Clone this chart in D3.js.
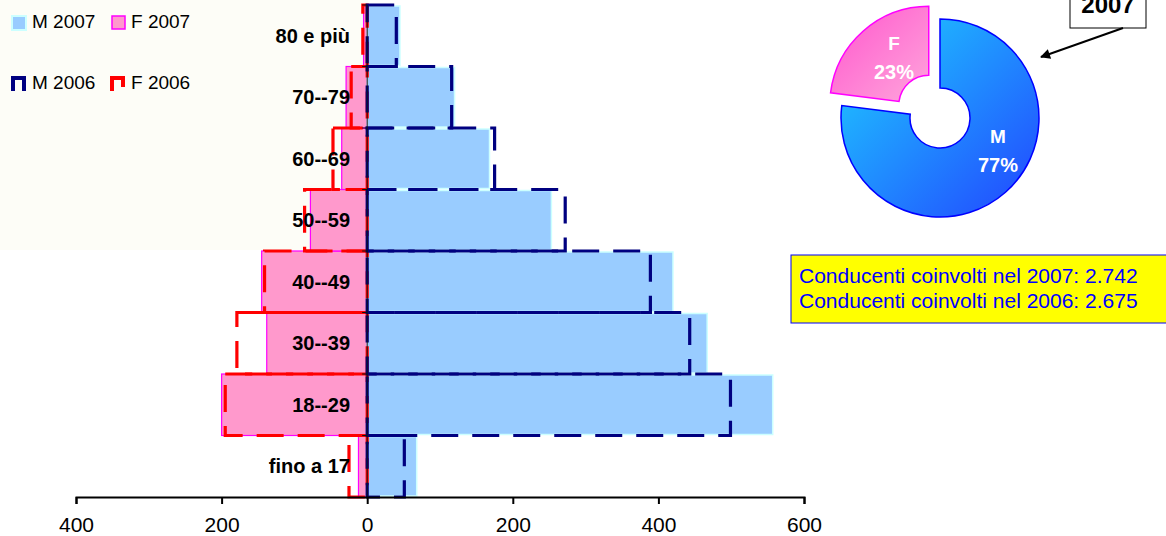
<!DOCTYPE html>
<html>
<head>
<meta charset="utf-8">
<script src="https://cdn.jsdelivr.net/npm/d3@7"></script>
<style>
  html, body { margin: 0; padding: 0; background: #ffffff; }
  svg { display: block; font-family: "Liberation Sans", Arial, sans-serif; }
</style>
</head>
<body>
<svg id="chart" width="1166" height="536"></svg>
<script>
// ---- data ----
const categories = ["fino a 17", "18--29", "30--39", "40--49", "50--59", "60--69", "70--79", "80 e più"];
const m2007 = [68, 557, 467, 420, 253, 168, 120, 45];
const f2007 = [12, 200, 138, 145, 78, 35, 29, 5];
const m2006 = [51, 499, 443, 389, 272, 175, 116, 40];
const f2006 = [25, 195, 179, 141, 86, 47, 22, 6];
const xTicks = [-400, -200, 0, 200, 400, 600];
const pieLabels = ["M", "F"];
const pieValues = [77, 23];
const legendLabels = ["M 2007", "F 2007", "M 2006", "F 2006"];
const infoLines = ["Conducenti coinvolti nel 2007: 2.742", "Conducenti coinvolti nel 2006: 2.675"];
const calloutLabel = "2007";

const svg = d3.select("#chart");
const defs = svg.append("defs");

// faint cream background panel (top-left)
svg.append("rect").attr("x", 0).attr("y", 0).attr("width", 368).attr("height", 250).attr("fill", "#fdfdf7");

// ---- scales ----
const x = d3.scaleLinear().domain([-400, 600]).range([76, 804]);
const y = d3.scaleBand().domain(categories.slice().reverse()).range([5, 497]).padding(0);

const rows = categories.map((c, i) => ({ c, m7: m2007[i], f7: f2007[i], m6: m2006[i], f6: f2006[i] }));

// 2007 filled bars
svg.append("g").selectAll("rect").data(rows).join("rect")
  .attr("x", d => x(-d.f7)).attr("y", d => y(d.c))
  .attr("width", d => x(0) - x(-d.f7)).attr("height", y.bandwidth())
  .attr("fill", "#ff99cc").attr("stroke", "#ff00ff").attr("stroke-width", 1.2);

svg.append("g").selectAll("rect").data(rows).join("rect")
  .attr("x", x(0)).attr("y", d => y(d.c) + 1)
  .attr("width", d => x(d.m7) - x(0)).attr("height", y.bandwidth() - 2)
  .attr("fill", "#99ccff").attr("stroke", "#ccffff").attr("stroke-width", 1.5);

// 2006 dashed outlines
svg.append("g").selectAll("rect").data(rows).join("rect")
  .attr("x", d => x(-d.f6)).attr("y", d => y(d.c))
  .attr("width", d => x(0) - x(-d.f6)).attr("height", y.bandwidth())
  .attr("fill", "none").attr("stroke", "#ff0000").attr("stroke-width", 3.2)
  .attr("stroke-dasharray", "27,14");

svg.append("g").selectAll("rect").data(rows).join("rect")
  .attr("x", x(0)).attr("y", d => y(d.c))
  .attr("width", d => x(d.m6) - x(0)).attr("height", y.bandwidth())
  .attr("fill", "none").attr("stroke", "#000080").attr("stroke-width", 3.2)
  .attr("stroke-dasharray", "27,14");

// zero (category) axis
svg.append("line").attr("x1", x(0)).attr("x2", x(0)).attr("y1", 5).attr("y2", 497)
  .attr("stroke", "#111").attr("stroke-width", 1);
svg.append("g").selectAll("line").data(categories).join("line")
  .attr("x1", x(0) - 5).attr("x2", x(0))
  .attr("y1", d => y(d)).attr("y2", d => y(d))
  .attr("stroke", "#111").attr("stroke-width", 1);

// category labels
svg.append("g").selectAll("text").data(categories).join("text")
  .attr("x", 350).attr("y", d => y(d) + y.bandwidth() / 2 + 7)
  .attr("text-anchor", "end").attr("font-size", 20).attr("font-weight", "bold")
  .attr("fill", "#000").text(d => d);

// bottom value axis
const xAxis = d3.axisBottom(x).tickValues(xTicks).tickSize(7).tickFormat(d => Math.abs(d));
const gx = svg.append("g").attr("transform", "translate(0,497)").call(xAxis);
gx.select(".domain").attr("stroke", "#000").attr("stroke-width", 2);
gx.selectAll(".tick line").attr("stroke", "#000").attr("stroke-width", 2);
gx.selectAll(".tick text").attr("font-size", 21).attr("font-family", "Liberation Sans, Arial, sans-serif")
  .attr("fill", "#000").attr("y", 0).attr("dy", 0)
  .attr("transform", "translate(0,35)");

// ---- legend ----
const lg = svg.append("g").attr("font-size", 19).attr("fill", "#000");
lg.append("rect").attr("x", 12).attr("y", 16).attr("width", 14).attr("height", 14)
  .attr("fill", "#99ccff").attr("stroke", "#ccffff").attr("stroke-width", 2);
lg.append("text").attr("x", 32).attr("y", 28).text(legendLabels[0]);
lg.append("rect").attr("x", 112).attr("y", 16).attr("width", 13).attr("height", 13)
  .attr("fill", "#ff99cc").attr("stroke", "#ff00ff").attr("stroke-width", 1.5);
lg.append("text").attr("x", 131).attr("y", 28).text(legendLabels[1]);
lg.append("path").attr("d", "M13,91 V78 H24 V91").attr("fill", "none")
  .attr("stroke", "#000080").attr("stroke-width", 4);
lg.append("text").attr("x", 32).attr("y", 89).text(legendLabels[2]);
lg.append("path").attr("d", "M112,91 V78 H123 V87").attr("fill", "none")
  .attr("stroke", "#ff0000").attr("stroke-width", 4);
lg.append("text").attr("x", 131).attr("y", 89).text(legendLabels[3]);

// ---- donut ----
const gM = defs.append("linearGradient").attr("id", "gradM")
  .attr("x1", "0").attr("y1", "0").attr("x2", "1").attr("y2", "1");
gM.append("stop").attr("offset", "0%").attr("stop-color", "#1ed2ff");
gM.append("stop").attr("offset", "100%").attr("stop-color", "#2244ff");
const gF = defs.append("linearGradient").attr("id", "gradF")
  .attr("x1", "0").attr("y1", "0").attr("x2", "1").attr("y2", "1");
gF.append("stop").attr("offset", "0%").attr("stop-color", "#ff55cc");
gF.append("stop").attr("offset", "100%").attr("stop-color", "#ffa6dc");

const cx = 940, cy = 118, rOut = 99, rIn = 30;
const pie = d3.pie().sort(null).value(d => d.v);
const pieData = pie(pieLabels.map((l, i) => ({ l, v: pieValues[i] })));
const arc = d3.arc().innerRadius(rIn).outerRadius(rOut);
const pg = svg.append("g").attr("transform", `translate(${cx},${cy})`);
pg.selectAll("path").data(pieData).join("path")
  .attr("transform", d => {
    if (d.data.l !== "F") return null;
    const a = (d.startAngle + d.endAngle) / 2, e = 17;
    return `translate(${Math.sin(a) * e},${-Math.cos(a) * e})`;
  })
  .attr("d", arc)
  .attr("fill", d => d.data.l === "M" ? "url(#gradM)" : "url(#gradF)")
  .attr("stroke", d => d.data.l === "M" ? "#0000ff" : "#ff00ff")
  .attr("stroke-width", 1.5);

// pie labels
const labelPos = { M: [998 - cx, 136 - cy], F: [894 - cx, 43 - cy] };
pieData.forEach(d => {
  const p = labelPos[d.data.l];
  pg.append("text").attr("x", p[0]).attr("y", p[1] + 7).attr("text-anchor", "middle")
    .attr("font-size", 19).attr("font-weight", "bold").attr("fill", "#fff").text(d.data.l);
  pg.append("text").attr("x", p[0]).attr("y", p[1] + 36).attr("text-anchor", "middle")
    .attr("font-size", 20).attr("font-weight", "bold").attr("fill", "#fff").text(d.data.v + "%");
});

// callout box + arrow
svg.append("rect").attr("x", 1070).attr("y", -10).attr("width", 76).attr("height", 38)
  .attr("fill", "#fff").attr("stroke", "#000").attr("stroke-width", 1);
svg.append("text").attr("x", 1108).attr("y", 13).attr("text-anchor", "middle")
  .attr("font-size", 24).attr("font-weight", "bold").text(calloutLabel);
defs.append("marker").attr("id", "arrow").attr("viewBox", "0 0 10 10")
  .attr("refX", 9).attr("refY", 5).attr("markerWidth", 7).attr("markerHeight", 5)
  .attr("markerUnits", "strokeWidth").attr("orient", "auto")
  .append("path").attr("d", "M0,0 L10,5 L0,10 z").attr("fill", "#000");
svg.append("line").attr("x1", 1123).attr("y1", 28).attr("x2", 1041).attr("y2", 57)
  .attr("stroke", "#000").attr("stroke-width", 2).attr("marker-end", "url(#arrow)");

// info box
svg.append("rect").attr("x", 791).attr("y", 255).attr("width", 390).attr("height", 68)
  .attr("fill", "#ffff00").attr("stroke", "#0000ff").attr("stroke-width", 1);
svg.append("g").selectAll("text").data(infoLines).join("text")
  .attr("x", 799).attr("y", (d, i) => 283 + i * 25)
  .attr("font-size", 21).attr("fill", "#0000ff").text(d => d);
</script>
</body>
</html>
